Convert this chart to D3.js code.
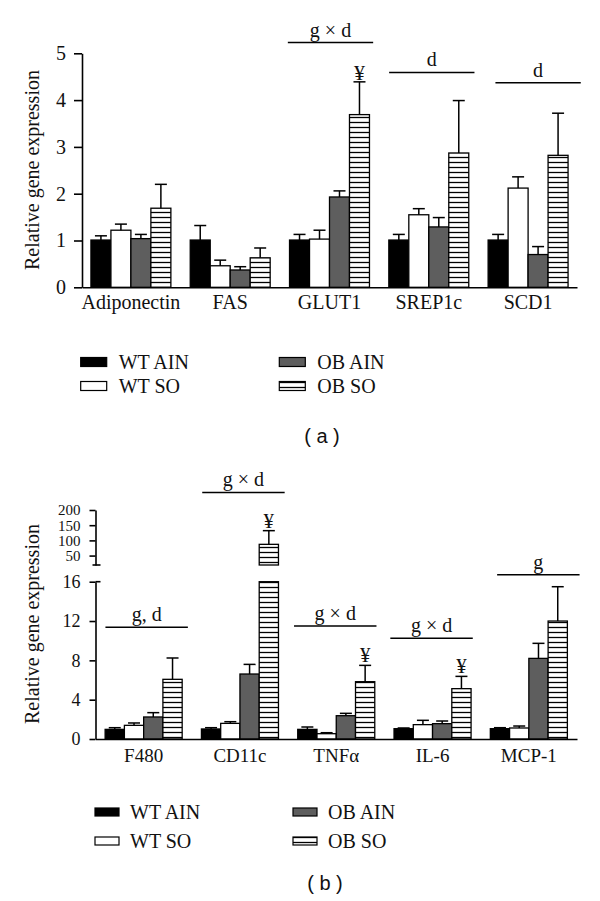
<!DOCTYPE html>
<html>
<head>
<meta charset="utf-8">
<script src="https://cdnjs.cloudflare.com/ajax/libs/d3/7.8.5/d3.min.js"></script>
<style>
  body { margin: 0; background: #fff; }
  svg text { font-family: "Liberation Serif", "Times New Roman", serif; fill: #111; }
</style>
</head>
<body>
<script>
const w = 600;
const h = 901;

const series = ["WT AIN", "WT SO", "OB AIN", "OB SO"];

// panel (a) values (mean and SEM)
const genesA = ["Adiponectin", "FAS", "GLUT1", "SREP1c", "SCD1"];
const wtAinA = [1.01, 1.01, 1.01, 1.01, 1.01];
const wtSoA = [1.22, 0.46, 1.03, 1.55, 2.12];
const obAinA = [1.04, 0.37, 1.93, 1.29, 0.7];
const obSoA = [1.69, 0.63, 3.69, 2.87, 2.82];
const wtAinSemA = [0.09, 0.31, 0.12, 0.12, 0.12];
const wtSoSemA = [0.13, 0.12, 0.19, 0.13, 0.24];
const obAinSemA = [0.09, 0.07, 0.13, 0.2, 0.17];
const obSoSemA = [0.51, 0.21, 0.7, 1.12, 0.9];
const ticksA = [0, 1, 2, 3, 4, 5];
const sigGenesA = ["GLUT1", "SREP1c", "SCD1"];
const sigLabelsA = ["g \u00d7 d", "d", "d"];
const sigLevelsA = [5.23, 4.59, 4.37];
const yenGenesA = ["GLUT1"];

// panel (b)
const genesB = ["F480", "CD11c", "TNF\u03b1", "IL-6", "MCP-1"];
const wtAinB = [0.98, 1.02, 0.98, 1.05, 1.05];
const wtSoB = [1.39, 1.59, 0.54, 1.46, 1.12];
const obAinB = [2.24, 6.61, 2.37, 1.56, 8.2];
const obSoB = [6.07, 87, 5.83, 5.12, 12.0];
const wtAinSemB = [0.17, 0.13, 0.24, 0.07, 0.1];
const wtSoSemB = [0.24, 0.17, 0.1, 0.44, 0.2];
const obAinSemB = [0.44, 0.98, 0.24, 0.27, 1.53];
const obSoSemB = [2.17, 45, 1.66, 1.25, 3.49];
const ticksLowB = [0, 4, 8, 12, 16];
const ticksHighB = [50, 100, 150, 200];
const sigGenesB = ["F480", "CD11c", "TNF\u03b1", "IL-6", "MCP-1"];
const sigLabelsB = ["g, d", "g \u00d7 d", "g \u00d7 d", "g \u00d7 d", "g"];
const sigLevelsB = [11.36, 258, 11.5, 10.24, 16.7];
const yenGenesB = ["CD11c", "TNF\u03b1", "IL-6"];

const fills = { "WT AIN": "#000", "WT SO": "#fff", "OB AIN": "#5e5e5e", "OB SO": "url(#hstripe)" };

const svg = d3.select("body").append("svg").attr("width", w).attr("height", h);

const defs = svg.append("defs");
const pat = defs.append("pattern")
  .attr("id", "hstripe")
  .attr("patternUnits", "userSpaceOnUse")
  .attr("width", 8)
  .attr("height", 5);
pat.append("rect").attr("width", 8).attr("height", 5).attr("fill", "#fff");
pat.append("line")
  .attr("x1", 0).attr("x2", 8).attr("y1", 2.5).attr("y2", 2.5)
  .attr("stroke", "#000").attr("stroke-width", 1.3);

function drawPanel(p) {
  const g = svg.append("g");
  const x = d3.scaleBand().domain(p.genes).range(p.xRange)
    .paddingInner(p.padIn).paddingOuter(p.padOut);
  const xs = d3.scaleBand().domain(series).range([0, x.bandwidth()]);
  const segs = p.segments.map(s => d3.scaleLinear().domain(s.domain).range(s.range));
  // pick the last segment that starts below the value
  const segOf = v => {
    let s = segs[0];
    segs.forEach(sc => { if (v >= sc.domain()[0]) s = sc; });
    return s;
  };
  const yOf = v => segOf(v)(v);

  const rows = [];
  p.genes.forEach((gene, i) => {
    series.forEach((s, j) => {
      rows.push({ gene: gene, s: s, v: p.means[j][i], e: p.sems[j][i] });
    });
  });

  // bars, split over the axis break when needed
  rows.forEach(d => {
    segs.forEach(sc => {
      const [d0, d1] = sc.domain();
      if (d.v <= d0) return;
      const top = sc(Math.min(d.v, d1));
      const bot = sc(d0);
      g.append("rect")
        .attr("x", x(d.gene) + xs(d.s))
        .attr("y", top)
        .attr("width", xs.bandwidth())
        .attr("height", bot - top)
        .attr("fill", fills[d.s])
        .attr("stroke", "#000")
        .attr("stroke-width", 1.3);
    });
  });

  // error bars
  rows.forEach(d => {
    const cx = x(d.gene) + xs(d.s) + xs.bandwidth() / 2;
    const y0 = yOf(d.v);
    const y1 = yOf(d.v + d.e);
    g.append("line").attr("x1", cx).attr("x2", cx).attr("y1", y0).attr("y2", y1)
      .attr("stroke", "#000").attr("stroke-width", 1.5);
    g.append("line").attr("x1", cx - 6).attr("x2", cx + 6).attr("y1", y1).attr("y2", y1)
      .attr("stroke", "#000").attr("stroke-width", 1.5);
    if (d.s === "OB SO" && p.yen.includes(d.gene)) {
      g.append("text")
        .attr("x", cx)
        .attr("y", y1 - p.yenGap)
        .attr("text-anchor", "middle")
        .style("font-size", p.yenSize + "px")
        .text("\u00a5");
    }
  });

  // significance lines
  p.sigGenes.forEach((gene, i) => {
    const cx = x(gene) + x.bandwidth() / 2 + p.sigNudge[i];
    const half = x.bandwidth() / 2 + 2.7;
    const yy = yOf(p.sigLevels[i]);
    g.append("line").attr("x1", cx - half).attr("x2", cx + half).attr("y1", yy).attr("y2", yy)
      .attr("stroke", "#000").attr("stroke-width", 1.5);
    g.append("text")
      .attr("x", cx)
      .attr("y", yy - 6)
      .attr("text-anchor", "middle")
      .style("font-size", "20px")
      .text(p.sigLabels[i]);
  });

  // y axes
  segs.forEach((sc, k) => {
    const ax = g.append("g")
      .attr("transform", "translate(" + p.xRange[0] + ",0)")
      .call(d3.axisLeft(sc).tickValues(p.ticks[k]).tickSize(p.tickLen)
        .tickSizeOuter(0).tickPadding(p.tickPad).tickFormat(d3.format("d")));
    ax.selectAll("text").style("font-size", p.tickFont[k] + "px");
  });
  // caps at the axis break
  if (segs.length > 1) {
    const x0 = p.xRange[0];
    const yLowTop = segs[0].range()[1];
    const yHighBot = segs[1].range()[0];
    g.append("line").attr("x1", x0).attr("x2", x0 + 5).attr("y1", yLowTop).attr("y2", yLowTop)
      .attr("stroke", "#000").attr("stroke-width", 1.6);
    g.append("line").attr("x1", x0 - 3).attr("x2", x0 + 5).attr("y1", yHighBot).attr("y2", yHighBot)
      .attr("stroke", "#000").attr("stroke-width", 1.6);
  }

  // x axis
  const xa = g.append("g")
    .attr("transform", "translate(0," + segs[0].range()[0] + ")")
    .call(d3.axisBottom(x).tickSize(0).tickSizeOuter(0).tickPadding(p.catPad));
  xa.selectAll("text").style("font-size", p.catFont + "px");

  g.selectAll(".domain, .tick line").attr("stroke", "#000").attr("stroke-width", 1.6);

  // axis title
  g.append("text")
    .attr("transform", "translate(" + p.titleX + "," + p.titleY + ") rotate(-90)")
    .attr("text-anchor", "middle")
    .attr("dy", "0.35em")
    .style("font-size", "20px")
    .text("Relative gene expression");

  // legend
  const lg = p.legend;
  series.forEach((s, j) => {
    const col = j < 2 ? 0 : 1;
    const row = j % 2;
    const sx = lg.cols[col];
    const cy = lg.rows[row];
    g.append("rect")
      .attr("x", sx).attr("y", cy - lg.sh / 2)
      .attr("width", lg.sw).attr("height", lg.sh)
      .attr("fill", fills[s]).attr("stroke", "#000").attr("stroke-width", 1.2);
    g.append("text")
      .attr("x", sx + lg.textGap)
      .attr("y", cy)
      .attr("dy", "0.35em")
      .style("font-size", "20px")
      .text(s);
  });

  // panel letter
  g.append("text")
    .attr("x", p.letterX)
    .attr("y", p.letterY)
    .attr("text-anchor", "middle")
    .style("font-family", "'Liberation Sans', Arial, sans-serif")
    .style("font-size", "20px")
    .text(p.letter);
}

drawPanel({
  genes: genesA,
  means: [wtAinA, wtSoA, obAinA, obSoA],
  sems: [wtAinSemA, wtSoSemA, obAinSemA, obSoSemA],
  xRange: [82, 577],
  padIn: 0.195,
  padOut: 0.09,
  segments: [{ domain: [0, 5], range: [287.3, 53.3] }],
  ticks: [ticksA],
  tickLen: 8,
  tickPad: 8,
  tickFont: [20],
  catPad: 8,
  catFont: 20,
  sigGenes: sigGenesA,
  sigLabels: sigLabelsA,
  sigLevels: sigLevelsA,
  sigNudge: [1, 3, 10],
  yen: yenGenesA,
  yenGap: 2,
  yenSize: 22,
  titleX: 32,
  titleY: 170,
  legend: { cols: [80.7, 279.3], rows: [362, 386], sw: 26, sh: 9, textGap: 38 },
  letter: "( a )",
  letterX: 322,
  letterY: 443
});

drawPanel({
  genes: genesB,
  means: [wtAinB, wtSoB, obAinB, obSoB],
  sems: [wtAinSemB, wtSoSemB, obAinSemB, obSoSemB],
  xRange: [95.5, 577],
  padIn: 0.2,
  padOut: 0.1,
  segments: [
    { domain: [0, 16], range: [739, 581.7] },
    { domain: [19, 200], range: [565, 510] }
  ],
  ticks: [ticksLowB, ticksHighB],
  tickLen: 6,
  tickPad: 9,
  tickFont: [18, 15],
  catPad: 10,
  catFont: 19,
  sigGenes: sigGenesB,
  sigLabels: sigLabelsB,
  sigLevels: sigLevelsB,
  sigNudge: [3, 3.5, -1, -1, 9.5],
  yen: yenGenesB,
  yenGap: 3,
  yenSize: 21,
  titleX: 32,
  titleY: 624,
  legend: { cols: [95, 293], rows: [812, 841], sw: 24, sh: 8, textGap: 35 },
  letter: "( b )",
  letterX: 325,
  letterY: 890
});
</script>
</body>
</html>
